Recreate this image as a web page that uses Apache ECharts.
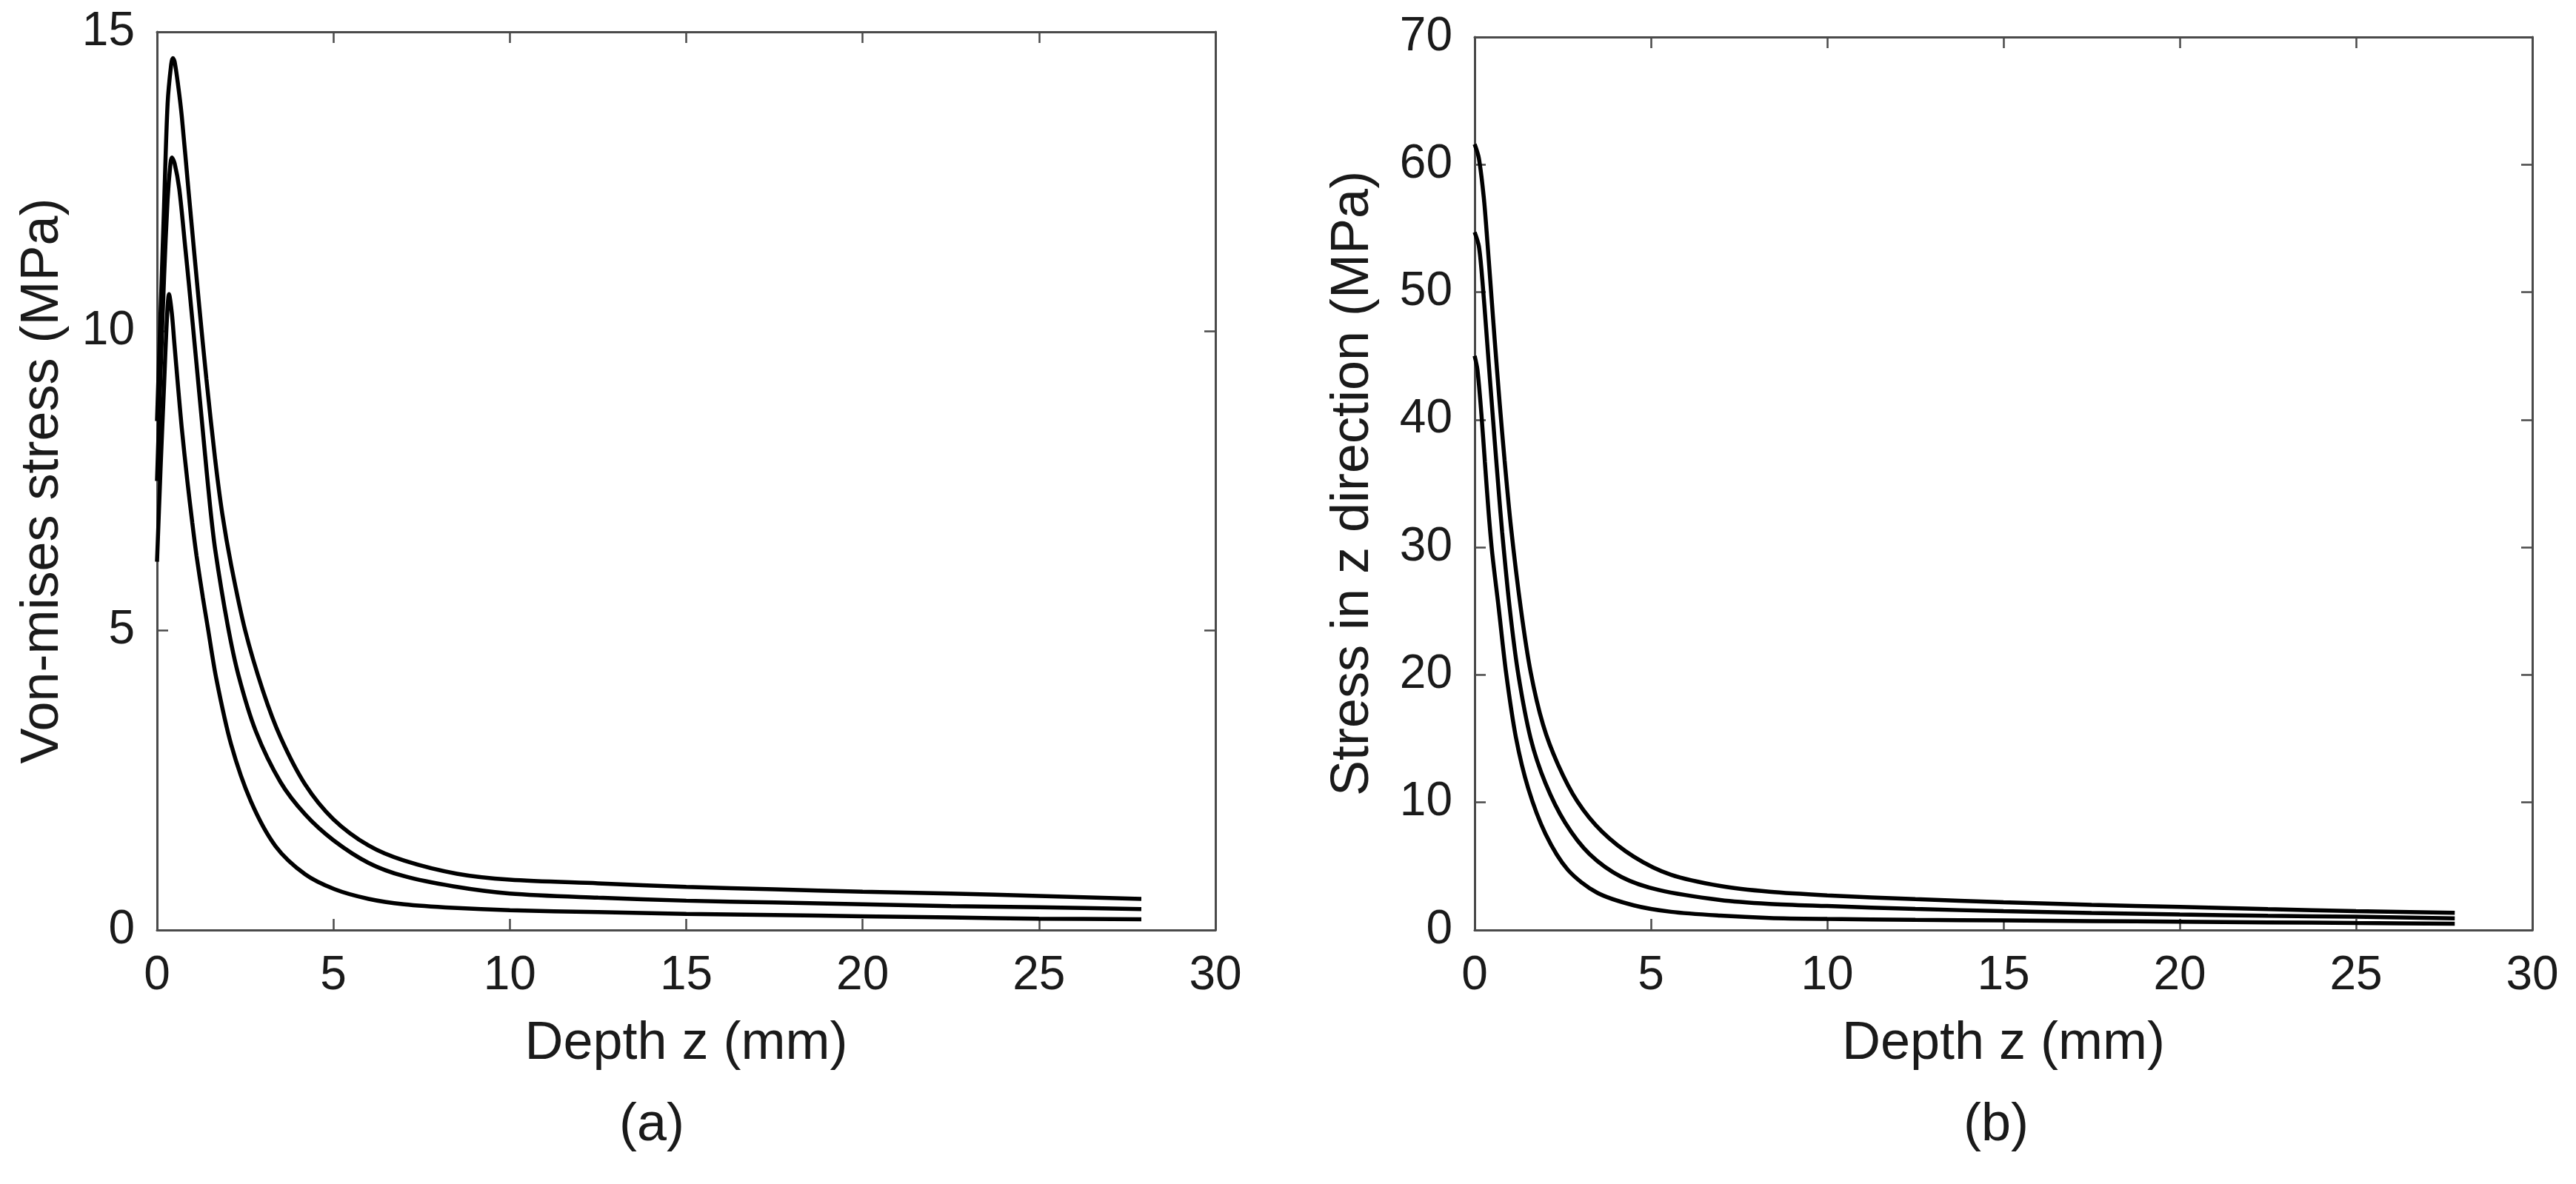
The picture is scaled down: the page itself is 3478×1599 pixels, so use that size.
<!DOCTYPE html>
<html>
<head>
<meta charset="utf-8">
<script src="https://cdn.jsdelivr.net/npm/echarts@6/dist/echarts.min.js"></script>
<style>
  html, body { margin: 0; padding: 0; background: #fff; }
  #chart { width: 3478px; height: 1599px; }
</style>
</head>
<body>
<div id="chart"></div>
<script>
// panel (a): von-mises stress vs depth, three curves (upper, middle, lower)
const depthA1 = [0, 0.1, 0.2, 0.3, 0.4, 0.45, 0.5, 0.6, 0.7, 0.9, 1.2, 1.4, 1.65, 1.85, 2.1, 2.5, 3.0, 3.5, 4.2, 5, 6, 7, 8.5, 10, 12.5, 15, 17.5, 20, 22.5, 25, 27.9];
const stressA1 = [8.5, 10.3, 12.1, 13.8, 14.45, 14.56, 14.5, 14.1, 13.6, 12.3, 10.4, 9.2, 7.85, 6.95, 6.1, 5.0, 4.0, 3.22, 2.43, 1.85, 1.41, 1.16, 0.94, 0.84, 0.78, 0.72, 0.68, 0.64, 0.61, 0.57, 0.52];
const depthA2 = [0, 0.1, 0.2, 0.3, 0.38, 0.42, 0.5, 0.63, 0.8, 0.91, 1.12, 1.32, 1.5, 1.65, 2.0, 2.31, 2.8, 3.5, 4.2, 5, 6, 7, 8.4, 10, 12.5, 15, 17.5, 20, 22.5, 25, 27.9];
const stressA2 = [7.5, 9.3, 10.9, 12.2, 12.8, 12.9, 12.8, 12.38, 11.4, 10.75, 9.45, 8.2, 7.1, 6.35, 5.1, 4.25, 3.32, 2.47, 1.93, 1.5, 1.12, 0.9, 0.73, 0.61, 0.54, 0.49, 0.46, 0.43, 0.40, 0.38, 0.35];
const depthA3 = [0, 0.1, 0.2, 0.28, 0.34, 0.42, 0.49, 0.6, 0.7, 0.86, 1.0, 1.12, 1.3, 1.44, 1.68, 2.1, 2.66, 3.36, 4.2, 5.04, 6, 7, 8.4, 10, 12.5, 15, 17.5, 20, 22.5, 25, 27.9];
const stressA3 = [6.15, 7.7, 9.1, 10.2, 10.62, 10.3, 9.81, 9.05, 8.39, 7.5, 6.8, 6.25, 5.55, 5.05, 4.2, 3.1, 2.15, 1.4, 0.93, 0.68, 0.52, 0.43, 0.37, 0.33, 0.30, 0.27, 0.25, 0.23, 0.21, 0.19, 0.18];

// panel (b): stress in z direction vs depth
const depthB1 = [0, 0.12, 0.26, 0.36, 0.47, 0.57, 0.71, 0.85, 1.03, 1.31, 1.59, 1.94, 2.36, 2.91, 3.61, 4.52, 5.57, 6.97, 8.36, 10, 12.5, 15, 17.5, 20, 22.5, 25, 27.8];
const stressB1 = [61.6, 60.5, 57.4, 54.0, 49.9, 46.2, 41.3, 36.8, 31.6, 25.2, 20.2, 16.1, 13.0, 10.1, 7.72, 5.74, 4.33, 3.45, 3.0, 2.72, 2.42, 2.18, 1.98, 1.81, 1.64, 1.48, 1.35];
const depthB2 = [0, 0.12, 0.22, 0.33, 0.43, 0.57, 0.68, 0.78, 1.0, 1.24, 1.59, 2.01, 2.57, 3.26, 4.17, 5.22, 6.97, 8.36, 10, 12.5, 15, 17.5, 20, 22.5, 25, 27.8];
const stressB2 = [54.7, 53.6, 50.9, 47.0, 43.3, 38.3, 34.5, 31.2, 25.1, 20.0, 15.0, 11.5, 8.4, 5.95, 4.15, 3.14, 2.35, 2.05, 1.88, 1.65, 1.48, 1.34, 1.22, 1.12, 1.04, 0.92];
const depthB3 = [0, 0.08, 0.19, 0.29, 0.40, 0.5, 0.68, 0.89, 1.17, 1.52, 2.01, 2.64, 3.47, 4.52, 5.57, 6.97, 8.36, 10, 12.5, 15, 17.5, 20, 22.5, 25, 27.8];
const stressB3 = [45.0, 43.9, 40.5, 36.7, 32.6, 29.5, 25.3, 20.2, 15.1, 11.1, 7.53, 4.73, 2.93, 1.93, 1.43, 1.13, 0.95, 0.87, 0.80, 0.75, 0.70, 0.65, 0.60, 0.55, 0.50];

const xTitle = 'Depth z (mm)';
const yTitleA = 'Von-mises stress (MPa)';
const yTitleB = 'Stress in z direction (MPa)';

const FONT = '"Liberation Sans", Arial, Helvetica, sans-serif';
const AXIS_COLOR = '#4a4a4a';
const TEXT_COLOR = '#1a1a1a';

function pairs(xs, ys) {
  return xs.map((x, i) => [x, ys[i]]);
}

function frameAxis(extra) {
  return Object.assign({
    type: 'value',
    axisLine: { show: true, onZero: false, lineStyle: { color: AXIS_COLOR, width: 3 } },
    axisTick: { show: true, inside: true, length: 15, lineStyle: { color: AXIS_COLOR, width: 2.5 } },
    axisLabel: { show: false },
    splitLine: { show: false }
  }, extra);
}

function labelStyle(margin) {
  return { show: true, margin: margin, color: TEXT_COLOR, fontSize: 64, fontFamily: FONT };
}

function nameStyle() {
  return { color: TEXT_COLOR, fontSize: 72, fontFamily: FONT };
}

function lineSeries(xi, yi, xs, ys) {
  return {
    type: 'line',
    xAxisIndex: xi,
    yAxisIndex: yi,
    data: pairs(xs, ys),
    showSymbol: false,
    smooth: 0.3,
    lineStyle: { color: '#000', width: 5.5 },
    silent: true
  };
}

const chart = echarts.init(document.getElementById('chart'), null, { renderer: 'canvas' });

const option = {
  backgroundColor: '#fff',
  animation: false,
  grid: [
    { left: 212, top: 43, width: 1429, height: 1213, outerBoundsMode: 'none', containLabel: false },
    { left: 1991, top: 50, width: 1428, height: 1206, outerBoundsMode: 'none', containLabel: false }
  ],
  xAxis: [
    frameAxis({ gridIndex: 0, position: 'bottom', min: 0, max: 30, interval: 5,
      axisLabel: labelStyle(30),
      name: xTitle, nameLocation: 'middle', nameGap: 118, nameTextStyle: nameStyle() }),
    frameAxis({ gridIndex: 0, position: 'top', min: 0, max: 30, interval: 5 }),
    frameAxis({ gridIndex: 1, position: 'bottom', min: 0, max: 30, interval: 5,
      axisLabel: labelStyle(30),
      name: xTitle, nameLocation: 'middle', nameGap: 118, nameTextStyle: nameStyle() }),
    frameAxis({ gridIndex: 1, position: 'top', min: 0, max: 30, interval: 5 })
  ],
  yAxis: [
    frameAxis({ gridIndex: 0, position: 'left', min: 0, max: 15, interval: 5,
      axisLabel: labelStyle(30),
      name: yTitleA, nameLocation: 'middle', nameGap: 118, nameRotate: 90, nameTextStyle: nameStyle() }),
    frameAxis({ gridIndex: 0, position: 'right', min: 0, max: 15, interval: 5 }),
    frameAxis({ gridIndex: 1, position: 'left', min: 0, max: 70, interval: 10,
      axisLabel: labelStyle(30),
      name: yTitleB, nameLocation: 'middle', nameGap: 128, nameRotate: 90, nameTextStyle: nameStyle() }),
    frameAxis({ gridIndex: 1, position: 'right', min: 0, max: 70, interval: 10 })
  ],
  series: [
    lineSeries(0, 0, depthA1, stressA1),
    lineSeries(0, 0, depthA2, stressA2),
    lineSeries(0, 0, depthA3, stressA3),
    lineSeries(2, 2, depthB1, stressB1),
    lineSeries(2, 2, depthB2, stressB2),
    lineSeries(2, 2, depthB3, stressB3)
  ],
  graphic: [
    { type: 'text', x: 880, y: 1520, style: { text: '(a)', fill: TEXT_COLOR, font: '72px ' + FONT, textAlign: 'center', textVerticalAlign: 'middle' } },
    { type: 'text', x: 2695, y: 1520, style: { text: '(b)', fill: TEXT_COLOR, font: '72px ' + FONT, textAlign: 'center', textVerticalAlign: 'middle' } }
  ]
};

chart.setOption(option);
</script>
</body>
</html>
